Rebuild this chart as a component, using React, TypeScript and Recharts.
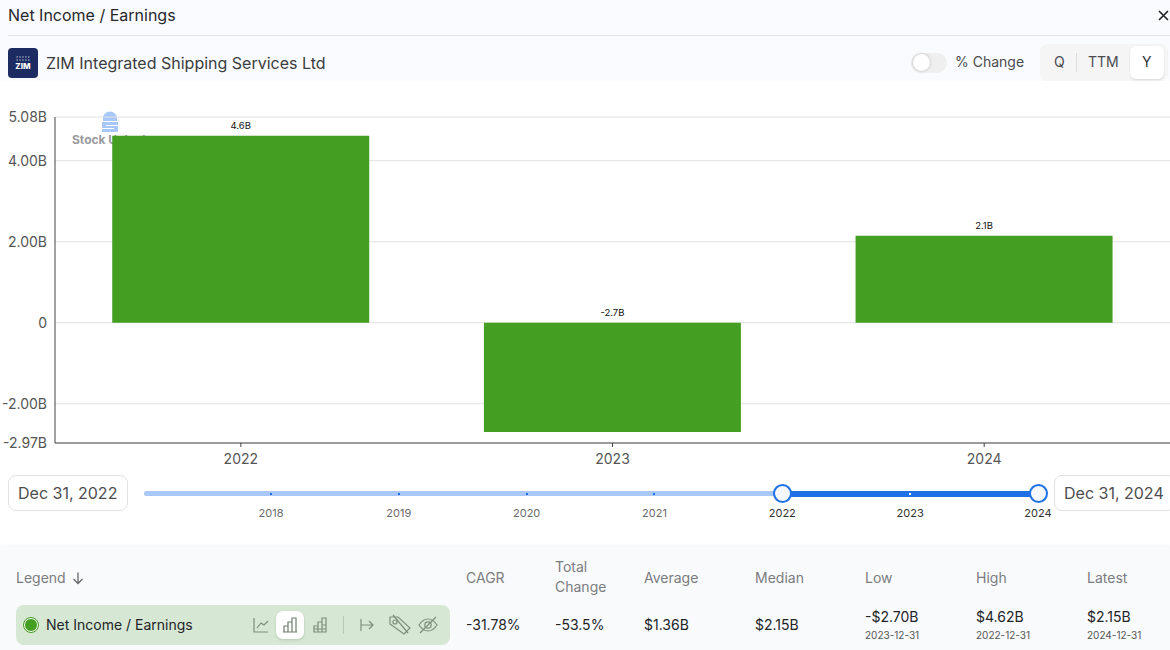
import { BarChart, Bar, XAxis, YAxis, CartesianGrid, LabelList } from "recharts";

const years = ["2022", "2023", "2024"];
const netIncome = [4.62, -2.7, 2.15];
const barLabels = ["4.6B", "-2.7B", "2.1B"];
const yTicks = [5.08, 4, 2, 0, -2, -2.97];
const yTickLabels = ["5.08B", "4.00B", "2.00B", "0", "-2.00B", "-2.97B"];
const sliderYears = ["2018", "2019", "2020", "2021", "2022", "2023", "2024"];
const statHeads = ["CAGR", "Total Change", "Average", "Median", "Low", "High", "Latest"];
const statValues = ["-31.78%", "-53.5%", "$1.36B", "$2.15B", "-$2.70B", "$4.62B", "$2.15B"];
const statDates = ["", "", "", "", "2023-12-31", "2022-12-31", "2024-12-31"];

const data = years.map((year, i) => ({ year, value: netIncome[i], label: barLabels[i] }));

const FONT = "Inter, sans-serif";
const GREEN = "#449e22";
const BLUE = "#1f6fe5";
const statX = [466, 555, 644, 755, 865, 976, 1087];

const box = (left: number, top: number, width: number, height: number, extra: React.CSSProperties = {}): React.CSSProperties => ({
  position: "absolute",
  left,
  top,
  width,
  height,
  ...extra,
});

const text = (left: number, centerY: number, size: number, color: string, extra: React.CSSProperties = {}): React.CSSProperties => ({
  position: "absolute",
  left,
  top: centerY - 12,
  height: 24,
  lineHeight: "24px",
  fontSize: size,
  color,
  whiteSpace: "nowrap",
  ...extra,
});

function BarLabel(props: any) {
  const { x, y, width, height, value } = props;
  const top = Math.min(y, y + height);
  return (
    <text x={x + width / 2} y={top - 7} textAnchor="middle" fontSize={9.5} fill="#111" fontFamily={FONT}>
      {value}
    </text>
  );
}

function LegendIcons() {
  const s = { fill: "none", stroke: "#7d8f7b", strokeWidth: 1.2 };
  return (
    <svg style={box(250, 611, 190, 28)} viewBox="0 0 190 28">
      {/* line */}
      <path d="M4 7V21H18M7 17L11 12L14 14L18 10" {...s} />
      {/* bars */}
      <path d="M34 21V15H38V21ZM38 21V11H42V21ZM42 21V7H46V21ZM33 21H47" {...s} stroke="#6f7f6d" />
      {/* stacked bars */}
      <path d="M64 21V15H68V21ZM68 21V11H72V21ZM72 21V7H76V21ZM64 18H76M72 14H76" {...s} />
      <path d="M93.5 5V23" stroke="#b9c9b6" strokeWidth={1} />
      {/* range */}
      <path d="M111 8V20M111 14H123M119 10L123 14L119 18" {...s} />
      {/* tag off */}
      <path d="M140 6H148L160 17L154 23L140 13ZM143 4L158 22" {...s} />
      <circle cx={145} cy={11} r={2} {...s} />
      {/* eye off */}
      <path d="M169 14C172 9.5 175 8 178 8C181 8 184 9.5 187 14C184 18.5 181 20 178 20C175 20 172 18.5 169 14ZM170 22L186 6" {...s} />
      <circle cx={178} cy={14} r={3.2} {...s} />
    </svg>
  );
}

export default function App() {
  return (
    <div style={{ position: "fixed", left: 0, top: 0, width: 1170, height: 650, overflow: "hidden", background: "#fff", fontFamily: FONT }}>
      {/* header */}
      <div style={box(0, 0, 1170, 81, { background: "#fafbfe" })} />
      <div style={box(8, 35, 1162, 1, { background: "#e2e3e6" })} />
      <div style={text(8, 15, 16, "#27282c")}>Net Income / Earnings</div>
      <svg style={box(1157, 9, 13, 13)} viewBox="0 0 13 13">
        <path d="M2 2L11 11M11 2L2 11" stroke="#222" strokeWidth={1.6} />
      </svg>
      <div style={box(8, 48, 30, 30, { background: "#1d2b63", borderRadius: 4 })}>
        <svg width={30} height={30} viewBox="0 0 30 30">
          <path d="M8.5 9h13" stroke="#dfe3f0" strokeWidth={1.2} strokeDasharray="1.3 1.6" />
          <path d="M8.5 12h13" stroke="#dfe3f0" strokeWidth={1.2} strokeDasharray="1.3 1.6" />
          <text x={15} y={21} textAnchor="middle" fontSize={8} fontWeight={800} fill="#fff" fontFamily={FONT}>ZIM</text>
        </svg>
      </div>
      <div style={text(46, 63, 16, "#3b3c40")}>ZIM Integrated Shipping Services Ltd</div>
      <div style={box(911, 53, 36, 20, { background: "#efefef", borderRadius: 10 })} />
      <div style={box(913, 54, 17, 17, { background: "#fff", borderRadius: 9, boxShadow: "0 0 3px rgba(0,0,0,.25)" })} />
      <div style={text(955, 62, 14, "#4a4b4f")}>% Change</div>
      <div style={box(1040, 44, 128, 37, { background: "#f5f5f6", borderRadius: 8 })} />
      <div style={box(1130, 46, 34, 33, { background: "#fff", borderRadius: 6, boxShadow: "0 1px 2px rgba(0,0,0,.12)" })} />
      <div style={box(1076, 53, 1, 19, { background: "#dcdcdc" })} />
      <div style={text(1054, 62, 14, "#4a4b4f")}>Q</div>
      <div style={text(1088, 62, 14, "#4a4b4f")}>TTM</div>
      <div style={text(1142, 62, 14, "#33343a")}>Y</div>

      {/* watermark behind the bars */}
      <svg style={box(101, 111, 18, 22)} viewBox="0 0 18 22">
        <path d="M2 10V7A7 6.5 0 0 1 16 7V10ZM1 11H17V14H5V15H17V21H1V18H13V17H1Z" fill="#a8c8fb" />
      </svg>
      <div style={text(72, 140, 12, "#9a9a9c", { fontWeight: 700 })}>Stock Unlock</div>

      {/* chart */}
      <div style={box(0, 0, 1170, 480)}>
        <BarChart
          width={1170}
          height={480}
          data={data}
          margin={{ top: 117, right: 0, bottom: 0, left: 0 }}
          barCategoryGap="15.4%"
          style={{ fontFamily: FONT }}
        >
          <CartesianGrid vertical={false} stroke="#e1e1e1" />
          <XAxis
            dataKey="year"
            axisLine={{ stroke: "#444" }}
            tickLine={{ stroke: "#444" }}
            tickSize={4}
            tickMargin={7}
            tick={{ fontSize: 14, fill: "#555" }}
            height={37}
          />
          <YAxis
            width={55}
            type="number"
            domain={[-2.97, 5.08]}
            ticks={yTicks}
            interval={0}
            axisLine={{ stroke: "#444" }}
            tickLine={false}
            tickMargin={2}
            tick={{ fontSize: 14, fill: "#555" }}
            tickFormatter={(v: number) => yTickLabels[yTicks.indexOf(v)]}
          />
          <Bar dataKey="value" fill={GREEN} isAnimationActive={false}>
            <LabelList dataKey="label" content={BarLabel} />
          </Bar>
        </BarChart>
      </div>

      {/* date range slider */}
      <div style={box(8, 475, 118, 34, { border: "1px solid #e2e2e2", borderRadius: 8, background: "#fff" })} />
      <div style={text(18, 493, 16, "#4e4e50")}>Dec 31, 2022</div>
      <div style={box(1054, 475, 120, 34, { border: "1px solid #e2e2e2", borderRadius: 8, background: "#fff" })} />
      <div style={text(1064, 493, 16, "#4e4e50")}>Dec 31, 2024</div>
      <div style={box(144, 491, 640, 5, { background: "#a9c8f7", borderRadius: 3 })} />
      <div style={box(782, 491, 256, 5.5, { background: BLUE })} />
      {sliderYears.map((y, i) => {
        const x = 271 + i * 127.83;
        const selected = i >= 4;
        return (
          <div key={y}>
            <div style={box(x - 1, 492.5, 2, 2, { background: i === 5 ? "#fff" : BLUE })} />
            <div style={text(x - 20, 513, 11, selected ? "#333" : "#6b6b6d", { width: 40, textAlign: "center" })}>{y}</div>
          </div>
        );
      })}
      {[782, 1038].map((x) => (
        <div key={x} style={box(x - 9.5, 484, 15, 15, { border: `2px solid ${BLUE}`, borderRadius: 10, background: "#f4f8fe" })} />
      ))}

      {/* stats table */}
      <div style={box(0, 546, 1170, 104, { background: "#f9fafc", boxShadow: "0 -1px 2px rgba(0,0,0,.04)" })} />
      <div style={text(16, 578, 14, "#7b7c80")}>Legend</div>
      <svg style={box(71, 571, 14, 14)} viewBox="0 0 14 14">
        <path d="M7 1.5V12.5M2.5 8L7 12.5L11.5 8" fill="none" stroke="#666" strokeWidth={1.3} />
      </svg>
      <div style={box(16, 605, 434, 40, { background: "#d6e8d3", borderRadius: 8 })} />
      <div style={box(24, 618, 12, 12, { background: GREEN, borderRadius: 8, border: "1.5px solid #fff", outline: `1px solid ${GREEN}` })} />
      <div style={text(46, 625, 14, "#222428")}>Net Income / Earnings</div>
      <div style={box(276, 611, 28, 28, { background: "#fff", borderRadius: 7, boxShadow: "0 1px 3px rgba(0,0,0,.15)" })} />
      <LegendIcons />

      {statHeads.map((head, i) =>
        head === "Total Change" ? (
          <div key={head}>
            <div style={text(statX[i], 567, 14, "#7b7c80")}>Total</div>
            <div style={text(statX[i], 587, 14, "#7b7c80")}>Change</div>
          </div>
        ) : (
          <div key={head} style={text(statX[i], 578, 14, "#7b7c80")}>{head}</div>
        )
      )}
      {statValues.map((value, i) => (
        <div key={i}>
          <div style={text(statX[i], statDates[i] ? 617 : 625, 14, "#222428")}>{value}</div>
          {statDates[i] && <div style={text(statX[i], 635, 10, "#555")}>{statDates[i]}</div>}
        </div>
      ))}
    </div>
  );
}
